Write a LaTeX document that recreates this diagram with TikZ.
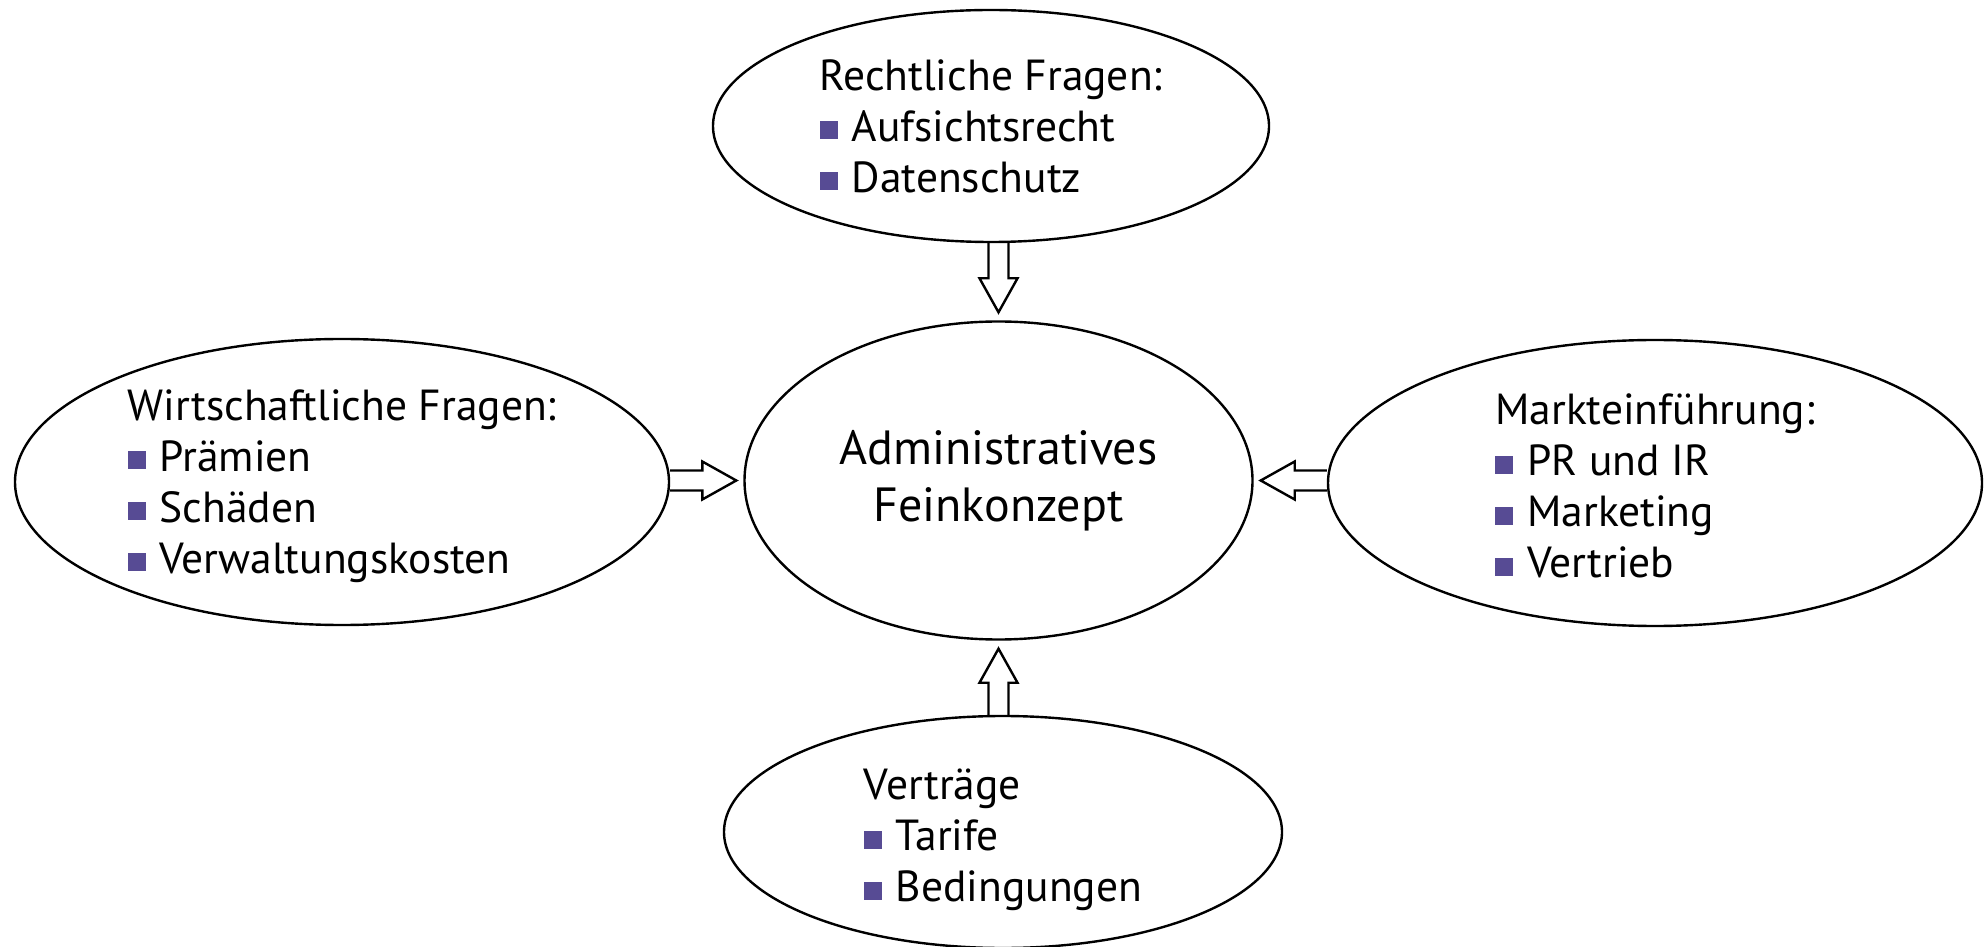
\documentclass[tikz,border=0pt]{standalone}
\usepackage{fontspec}
\setmainfont{PT Sans}
\usetikzlibrary{shapes.geometric,calc}
\definecolor{bulletc}{HTML}{574B94}
\newcommand{\bul}{\textcolor{bulletc}{\raisebox{2pt}{\rule{18pt}{18pt}}}\hspace{14pt}}
\tikzset{
  oval/.style={draw, ellipse, line width=2.4pt, inner sep=0pt},
  txt/.style={align=left, inner sep=0pt, font=\fontsize{43.5}{51}\selectfont},
  ctxt/.style={align=center, inner sep=0pt, font=\fontsize{48}{57}\selectfont},
  barrow/.style={draw, line width=2.4pt, line join=miter}
}
\begin{document}
\begin{tikzpicture}[x=1pt,y=1pt]
\useasboundingbox (0,0) rectangle (1988,946);
% ellipses
\node[oval, minimum width=556pt, minimum height=232pt] (top) at (991,820) {};
\node[oval, minimum width=508pt, minimum height=318pt] (mid) at (998.5,465.5) {};
\node[oval, minimum width=654pt, minimum height=286pt] (left) at (342,464) {};
\node[oval, minimum width=654pt, minimum height=286pt] (right) at (1655,463) {};
\node[oval, minimum width=558pt, minimum height=232pt] (bot) at (1003,114) {};
% texts
\node[txt] (toptxt) at (top.center) {Rechtliche Fragen:\\ \bul Aufsichtsrecht\\ \bul Datenschutz};
\node[ctxt] (midtxt) at (mid.center) {Administratives\\ Feinkonzept};
\node[txt] (lefttxt) at ([yshift=-4pt]left.center) {Wirtschaftliche Fragen:\\ \bul Prämien\\ \bul Schäden\\ \bul Verwaltungskosten};
\node[txt] (righttxt) at ([yshift=-3pt]right.center) {Markteinführung:\\ \bul PR und IR\\ \bul Marketing\\ \bul Vertrieb};
\node[txt] (bottxt) at ([yshift=-8pt]bot.center) {Verträge\\ \bul Tarife\\ \bul Bedingungen};
% arrow anchors
\coordinate (tA) at ($(mid.north)+(0,8)$);
\coordinate (bA) at (top.south -| mid.north);
\coordinate (tB) at ($(mid.south)+(0,-8)$);
\coordinate (bB) at (bot.north -| mid.south);
\coordinate (tC) at ($(mid.west)+(-7,0)$);
\coordinate (bC) at (left.east |- mid.west);
\coordinate (tD) at ($(mid.east)+(7,0)$);
\coordinate (bD) at (right.west |- mid.east);
% top arrow (down)
\draw[barrow] ($(bA)+(-10,0)$) -- ($(tA)+(-10,34)$) -- ($(tA)+(-19,34)$) -- (tA)
  -- ($(tA)+(19,34)$) -- ($(tA)+(10,34)$) -- ($(bA)+(10,0)$);
% bottom arrow (up)
\draw[barrow] ($(bB)+(-10,0)$) -- ($(tB)+(-10,-34)$) -- ($(tB)+(-19,-34)$) -- (tB)
  -- ($(tB)+(19,-34)$) -- ($(tB)+(10,-34)$) -- ($(bB)+(10,0)$);
% left arrow (right)
\draw[barrow] ($(bC)+(0,10)$) -- ($(tC)+(-34,10)$) -- ($(tC)+(-34,19)$) -- (tC)
  -- ($(tC)+(-34,-19)$) -- ($(tC)+(-34,-10)$) -- ($(bC)+(0,-10)$);
% right arrow (left)
\draw[barrow] ($(bD)+(0,10)$) -- ($(tD)+(34,10)$) -- ($(tD)+(34,19)$) -- (tD)
  -- ($(tD)+(34,-19)$) -- ($(tD)+(34,-10)$) -- ($(bD)+(0,-10)$);
\end{tikzpicture}
\end{document}
